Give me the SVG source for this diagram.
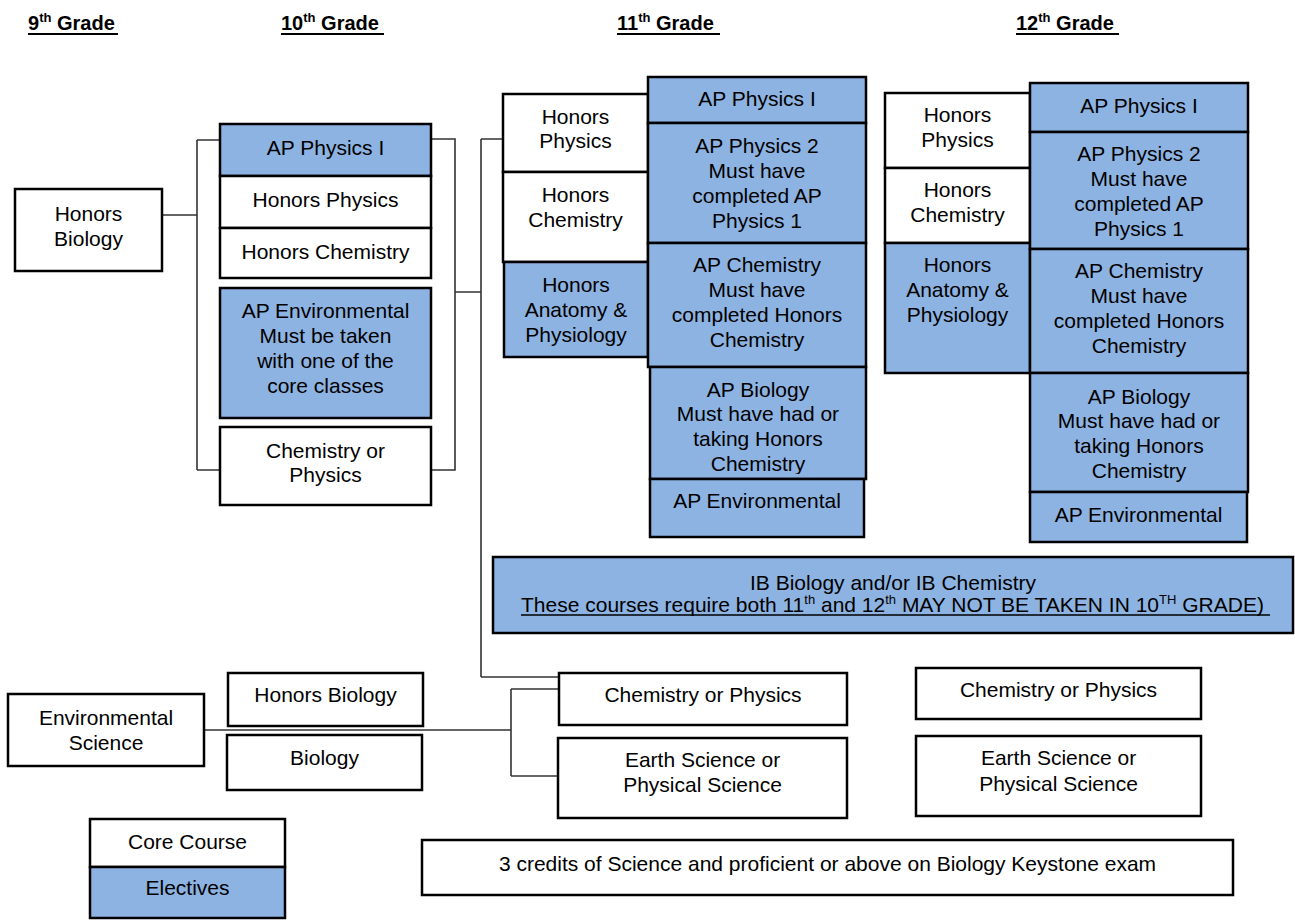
<svg xmlns="http://www.w3.org/2000/svg" width="1295" height="920" viewBox="0 0 1295 920">
<style>
.b{stroke:#000;stroke-width:2.5;fill:#fff}
.e{fill:#8db3e2}
.t{font-family:"Liberation Sans",Arial,sans-serif;font-size:21px;text-anchor:middle;fill:#000}
.h{font-family:"Liberation Sans",Arial,sans-serif;font-size:20px;font-weight:bold;fill:#000}
.u{stroke:#000;stroke-width:2}
.c{fill:none;stroke:#333;stroke-width:1.6}
.s{font-family:"Liberation Sans",Arial,sans-serif;font-size:21px;fill:#000}
</style>
<defs>
<clipPath id="clipbio11"><rect x="650" y="367" width="216" height="107"/></clipPath>
</defs>
<rect width="1295" height="920" fill="#fff"/>

<g id="headers">
<text class="h" x="28" y="30">9<tspan font-size="13" dy="-8">th</tspan><tspan dy="8"> Grade</tspan></text>
<line class="u" x1="28" y1="34" x2="118" y2="34"/>
<text class="h" x="281" y="30">10<tspan font-size="13" dy="-8">th</tspan><tspan dy="8"> Grade</tspan></text>
<line class="u" x1="281" y1="34" x2="384" y2="34"/>
<text class="h" x="617" y="30">11<tspan font-size="13" dy="-8">th</tspan><tspan dy="8"> Grade</tspan></text>
<line class="u" x1="617" y1="34" x2="720" y2="34"/>
<text class="h" x="1016" y="30">12<tspan font-size="13" dy="-8">th</tspan><tspan dy="8"> Grade</tspan></text>
<line class="u" x1="1016" y1="34" x2="1119" y2="34"/>
</g>

<g id="connectors">
<path class="c" d="M162,215 H197 M197,140 V470 M197,140 H220 M197,470 H220"/>
<path class="c" d="M431,139 H455 V470 H431 M455,292 H481 M481,139 V677 M481,139 H503 M481,677 H558"/>
<path class="c" d="M204,730 H511 M511,689 V776 M511,689 H558 M511,776 H558"/>
</g>

<g id="g9-honors-biology">
<rect class="b" x="15" y="189" width="147" height="82"/>
<text class="t" x="88.5" y="221">Honors</text>
<text class="t" x="88.5" y="246">Biology</text>
</g>

<g id="g10-ap-physics1">
<rect class="b e" x="220" y="124" width="211" height="52"/>
<text class="t" x="325.5" y="155">AP Physics I</text>
</g>
<g id="g10-honors-physics">
<rect class="b" x="220" y="176" width="211" height="52"/>
<text class="t" x="325.5" y="207">Honors Physics</text>
</g>
<g id="g10-honors-chemistry">
<rect class="b" x="220" y="228" width="211" height="50"/>
<text class="t" x="325.5" y="259">Honors Chemistry</text>
</g>
<g id="g10-ap-environmental">
<rect class="b e" x="220" y="288" width="211" height="130"/>
<text class="t" x="325.5" y="318">AP Environmental</text>
<text class="t" x="325.5" y="343">Must be taken</text>
<text class="t" x="325.5" y="368">with one of the</text>
<text class="t" x="325.5" y="393">core classes</text>
</g>
<g id="g10-chem-or-physics">
<rect class="b" x="220" y="427" width="211" height="78"/>
<text class="t" x="325.5" y="458">Chemistry or</text>
<text class="t" x="325.5" y="482">Physics</text>
</g>

<g id="g11-honors-physics">
<rect class="b" x="503" y="94" width="145" height="78"/>
<text class="t" x="575.5" y="124">Honors</text>
<text class="t" x="575.5" y="148">Physics</text>
</g>
<g id="g11-honors-chemistry">
<rect class="b" x="503" y="172" width="145" height="90"/>
<text class="t" x="575.5" y="202">Honors</text>
<text class="t" x="575.5" y="227">Chemistry</text>
</g>
<g id="g11-honors-anatomy">
<rect class="b e" x="504" y="262" width="144" height="95"/>
<text class="t" x="576" y="292">Honors</text>
<text class="t" x="576" y="317">Anatomy &amp;</text>
<text class="t" x="576" y="342">Physiology</text>
</g>
<g id="g11-ap-physics1">
<rect class="b e" x="648" y="77" width="218" height="46"/>
<text class="t" x="757" y="106">AP Physics I</text>
</g>
<g id="g11-ap-physics2">
<rect class="b e" x="648" y="123" width="218" height="120"/>
<text class="t" x="757" y="153">AP Physics 2</text>
<text class="t" x="757" y="178">Must have</text>
<text class="t" x="757" y="203">completed AP</text>
<text class="t" x="757" y="228">Physics 1</text>
</g>
<g id="g11-ap-chemistry">
<rect class="b e" x="648" y="243" width="218" height="124"/>
<text class="t" x="757" y="272">AP Chemistry</text>
<text class="t" x="757" y="297">Must have</text>
<text class="t" x="757" y="322">completed Honors</text>
<text class="t" x="757" y="347">Chemistry</text>
</g>
<g id="g11-ap-biology">
<rect class="b e" x="650" y="367" width="216" height="112"/>
<g clip-path="url(#clipbio11)">
<text class="t" x="758" y="397">AP  Biology</text>
<text class="t" x="758" y="421">Must have had or</text>
<text class="t" x="758" y="446">taking Honors</text>
<text class="t" x="758" y="471">Chemistry</text>
</g>
</g>
<g id="g11-ap-environmental">
<rect class="b e" x="650" y="479" width="214" height="58"/>
<text class="t" x="757" y="508">AP Environmental</text>
</g>

<g id="g12-honors-physics">
<rect class="b" x="885" y="93" width="145" height="75"/>
<text class="t" x="957.5" y="122">Honors</text>
<text class="t" x="957.5" y="147">Physics</text>
</g>
<g id="g12-honors-chemistry">
<rect class="b" x="885" y="168" width="145" height="75"/>
<text class="t" x="957.5" y="197">Honors</text>
<text class="t" x="957.5" y="222">Chemistry</text>
</g>
<g id="g12-honors-anatomy">
<rect class="b e" x="885" y="243" width="145" height="130"/>
<text class="t" x="957.5" y="272">Honors</text>
<text class="t" x="957.5" y="297">Anatomy &amp;</text>
<text class="t" x="957.5" y="322">Physiology</text>
</g>
<g id="g12-ap-physics1">
<rect class="b e" x="1030" y="83" width="218" height="49"/>
<text class="t" x="1139" y="113">AP Physics I</text>
</g>
<g id="g12-ap-physics2">
<rect class="b e" x="1030" y="132" width="218" height="117"/>
<text class="t" x="1139" y="161">AP Physics 2</text>
<text class="t" x="1139" y="186">Must have</text>
<text class="t" x="1139" y="211">completed AP</text>
<text class="t" x="1139" y="236">Physics 1</text>
</g>
<g id="g12-ap-chemistry">
<rect class="b e" x="1030" y="249" width="218" height="124"/>
<text class="t" x="1139" y="278">AP Chemistry</text>
<text class="t" x="1139" y="303">Must have</text>
<text class="t" x="1139" y="328">completed Honors</text>
<text class="t" x="1139" y="353">Chemistry</text>
</g>
<g id="g12-ap-biology">
<rect class="b e" x="1030" y="373" width="218" height="119"/>
<text class="t" x="1139" y="404">AP  Biology</text>
<text class="t" x="1139" y="428">Must have had or</text>
<text class="t" x="1139" y="453">taking Honors</text>
<text class="t" x="1139" y="478">Chemistry</text>
</g>
<g id="g12-ap-environmental">
<rect class="b e" x="1030" y="492" width="217" height="50"/>
<text class="t" x="1138.5" y="522">AP Environmental</text>
</g>

<g id="ib-courses">
<rect class="b e" x="493" y="557" width="800" height="76"/>
<text class="t" x="893" y="590">IB Biology and/or IB Chemistry</text>
<text class="s" x="521" y="612">These courses require both 11<tspan font-size="13" dy="-8">th</tspan><tspan dy="8"> and 12</tspan><tspan font-size="13" dy="-8">th</tspan><tspan dy="8"> MAY NOT BE TAKEN IN 10</tspan><tspan font-size="13" dy="-8">TH</tspan><tspan dy="8"> GRADE)</tspan></text>
<line stroke="#000" stroke-width="1.5" x1="521" y1="615" x2="1270" y2="615"/>
</g>

<g id="env-science">
<rect class="b" x="8" y="694" width="196" height="72"/>
<text class="t" x="106" y="725">Environmental</text>
<text class="t" x="106" y="750">Science</text>
</g>
<g id="b-honors-biology">
<rect class="b" x="228" y="673" width="195" height="53"/>
<text class="t" x="325.5" y="702">Honors Biology</text>
</g>
<g id="b-biology">
<rect class="b" x="227" y="735" width="195" height="55"/>
<text class="t" x="324.5" y="765">Biology</text>
</g>
<g id="b11-chem-or-physics">
<rect class="b" x="559" y="673" width="288" height="52"/>
<text class="t" x="703" y="702">Chemistry or Physics</text>
</g>
<g id="b11-earth-science">
<rect class="b" x="558" y="738" width="289" height="80"/>
<text class="t" x="702.5" y="767">Earth Science or</text>
<text class="t" x="702.5" y="792">Physical Science</text>
</g>
<g id="b12-chem-or-physics">
<rect class="b" x="916" y="668" width="285" height="51"/>
<text class="t" x="1058.5" y="697">Chemistry or Physics</text>
</g>
<g id="b12-earth-science">
<rect class="b" x="916" y="736" width="285" height="80"/>
<text class="t" x="1058.5" y="765">Earth Science or</text>
<text class="t" x="1058.5" y="791">Physical Science</text>
</g>
<g id="credits">
<rect class="b" x="422" y="840" width="811" height="55"/>
<text class="t" x="827.5" y="871">3 credits of Science and proficient or above on Biology Keystone exam</text>
</g>
<g id="legend-core">
<rect class="b" x="90" y="819" width="195" height="48"/>
<text class="t" x="187.5" y="849">Core Course</text>
</g>
<g id="legend-electives">
<rect class="b e" x="90" y="867" width="195" height="51"/>
<text class="t" x="187.5" y="895">Electives</text>
</g>
</svg>
